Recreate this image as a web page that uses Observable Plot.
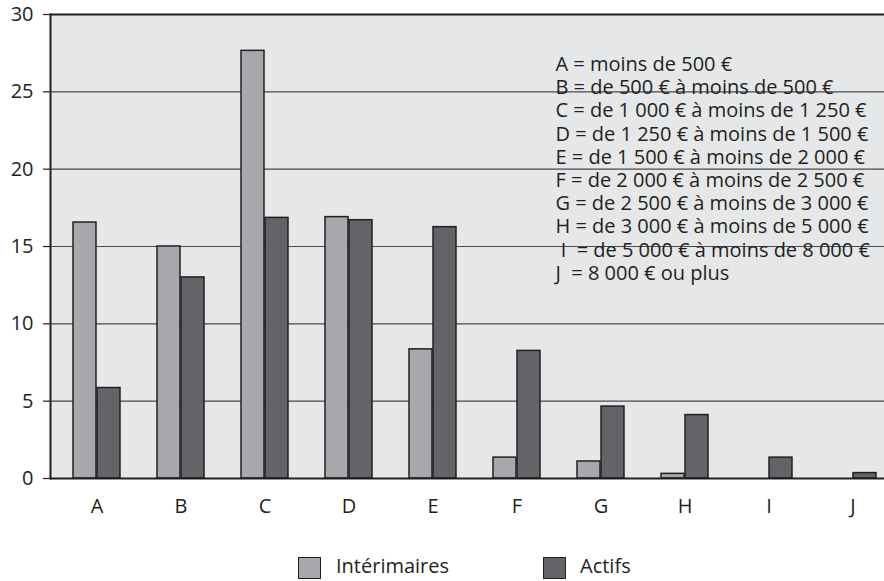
<!DOCTYPE html>
<html>
<head>
<meta charset="utf-8">
<script src="https://cdn.jsdelivr.net/npm/d3@7"></script>
<script src="https://cdn.jsdelivr.net/npm/@observablehq/plot@0.6"></script>
<style>
  body { margin: 0; background: #ffffff; font-family: "Open Sans", sans-serif; color: #231f20; }
  #wrap { position: relative; width: 884px; height: 581px; overflow: hidden; }
  #legend { position: relative; width: 884px; height: 51px; }
  .sw { position: absolute; top: 27px; width: 21px; height: 20px; border: 1.5px solid #231f20; }
  .lb { position: absolute; top: 25px; font-size: 20px; line-height: 21px; color: #231f20; white-space: nowrap; }
</style>
</head>
<body>
<div id="wrap"></div>
<script>
const categories = ["A", "B", "C", "D", "E", "F", "G", "H", "I", "J"];
const seriesNames = ["Intérimaires", "Actifs"];
const interimaires = [16.55, 15.0, 27.65, 16.9, 8.35, 1.35, 1.1, 0.3, 0, 0];
const actifs = [5.85, 13.0, 16.85, 16.7, 16.25, 8.25, 4.65, 4.1, 1.35, 0.35];
const yTicks = [0, 5, 10, 15, 20, 25, 30];
const gridTicks = [5, 10, 15, 20, 25];
const rangeNotes = [
  "A = moins de 500 €",
  "B = de 500 € à moins de 500 €",
  "C = de 1 000 € à moins de 1 250 €",
  "D = de 1 250 € à moins de 1 500 €",
  "E = de 1 500 € à moins de 2 000 €",
  "F = de 2 000 € à moins de 2 500 €",
  "G = de 2 500 € à moins de 3 000 €",
  "H = de 3 000 € à moins de 5 000 €",
  " I  = de 5 000 € à moins de 8 000 €",
  "J  = 8 000 € ou plus"
];

const colors = {"Intérimaires": "#a7a8ab", "Actifs": "#636467"};

const rows = [];
categories.forEach((c, i) => {
  rows.push({cat: c, serie: seriesNames[0], value: interimaires[i]});
  rows.push({cat: c, serie: seriesNames[1], value: actifs[i]});
});
const visible = rows.filter(d => d.value > 0);

const xRange = [50.5, 899.5];
const padIn = 0.4346, padOut = 0.2173;
const bw = d3.scaleBand(categories, xRange).paddingInner(padIn).paddingOuter(padOut).bandwidth();
const half = bw / 2;

const W = 884, H = 530;
const plot = Plot.plot({
  width: W,
  height: H,
  marginLeft: 50,
  marginRight: 0,
  marginTop: 14,
  marginBottom: 52,
  style: {fontFamily: "Open Sans, sans-serif", color: "#231f20", background: "#ffffff"},
  x: {domain: categories, range: xRange, paddingInner: padIn, paddingOuter: padOut, axis: null, label: null},
  y: {domain: [0, 30], axis: null, label: null},
  marks: [
    Plot.frame({fill: "#e6e7e9", stroke: null}),
    Plot.ruleY(gridTicks, {stroke: "#4a4a4c", strokeWidth: 1.2}),
    Plot.barY(visible.filter(d => d.serie === seriesNames[0]), {
      x: "cat", y: "value", fill: colors[seriesNames[0]], stroke: "#231f20", strokeWidth: 1.5, insetRight: half
    }),
    Plot.barY(visible.filter(d => d.serie === seriesNames[1]), {
      x: "cat", y: "value", fill: colors[seriesNames[1]], stroke: "#231f20", strokeWidth: 1.5, insetLeft: half
    }),
    Plot.ruleY([0, 30], {stroke: "#231f20", strokeWidth: 2}),
    Plot.frame({anchor: "left", stroke: "#231f20", strokeWidth: 2}),
    Plot.axisY({ticks: yTicks, tickSize: 7, tickPadding: 10, fontSize: 20, stroke: "#231f20", strokeWidth: 1.2, label: null}),
    Plot.axisX({tickSize: 0, tickPadding: 20, fontSize: 20, label: null}),
    Plot.text([rangeNotes.join("\n")], {
      frameAnchor: "top-left", dx: 505, dy: 40, textAnchor: "start", lineAnchor: "top",
      lineHeight: 1.16, fontSize: 20, fill: "#231f20"
    })
  ]
});
const wrap = document.getElementById("wrap");
wrap.appendChild(plot);

const legend = document.createElement("div");
legend.id = "legend";
const legendPos = [{sw: 298, lb: 336}, {sw: 543, lb: 580}];
seriesNames.forEach((s, i) => {
  const sw = document.createElement("div");
  sw.className = "sw";
  sw.style.left = legendPos[i].sw + "px";
  sw.style.background = colors[s];
  const lb = document.createElement("div");
  lb.className = "lb";
  lb.style.left = legendPos[i].lb + "px";
  lb.textContent = s;
  legend.appendChild(sw);
  legend.appendChild(lb);
});
wrap.appendChild(legend);
</script>
</body>
</html>
